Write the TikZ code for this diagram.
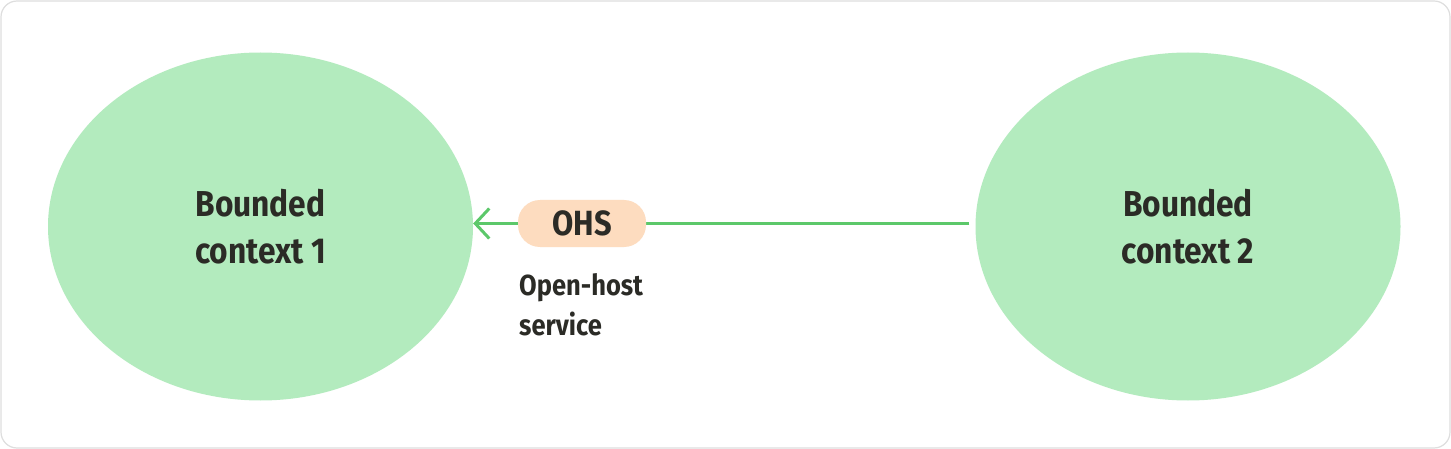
\documentclass[tikz,border=0pt]{standalone}
\usepackage{fontspec}
\setmainfont{Fira Sans}[FakeStretch=0.88]
\usetikzlibrary{arrows.meta,shapes.geometric}
\definecolor{ctxfill}{HTML}{B3EBBE}
\definecolor{ohsfill}{HTML}{FDDCBF}
\definecolor{linegreen}{HTML}{5CC86A}
\definecolor{txt}{HTML}{2B2B26}
\definecolor{frame}{HTML}{DEDEDE}
\tikzset{
  ctx/.style={ellipse, fill=ctxfill, minimum width=425pt, minimum height=348pt, inner sep=0pt,
    text=txt, font=\fontsize{36}{47}\selectfont\bfseries, align=center},
  pill/.style={rounded corners=22pt, fill=ohsfill, minimum width=128pt, minimum height=47pt,
    inner sep=0pt, text=txt, font=\fontsize{35}{40}\selectfont\bfseries},
  lbl/.style={text=txt, font=\fontsize{29}{40}\selectfont\bfseries, align=left, inner sep=0pt},
  conn/.style={draw=linegreen, line width=3pt, -{Straight Barb[length=14pt,width=30pt,line width=3pt]}}
}
\begin{document}
\begin{tikzpicture}[x=1pt,y=-1pt]
\useasboundingbox (0,0) rectangle (1451,449);
\draw[frame, line width=1.2pt, rounded corners=16pt, fill=white] (1,1) rectangle (1450,448);
\node[ctx] (c1) at (260.5,226.5) {Bounded\\context 1};
\node[ctx] (c2) at (1188,226.5) {Bounded\\context 2};
\node[lbl, anchor=north west] (desc) at (519,273) {Open-host\\service};
\draw[conn] (c2.west) ++(-6,-3) coordinate (s) -- (s -| c1.east);
\node[pill] (ohs) at (582,223.5) {OHS};
\end{tikzpicture}
\end{document}
